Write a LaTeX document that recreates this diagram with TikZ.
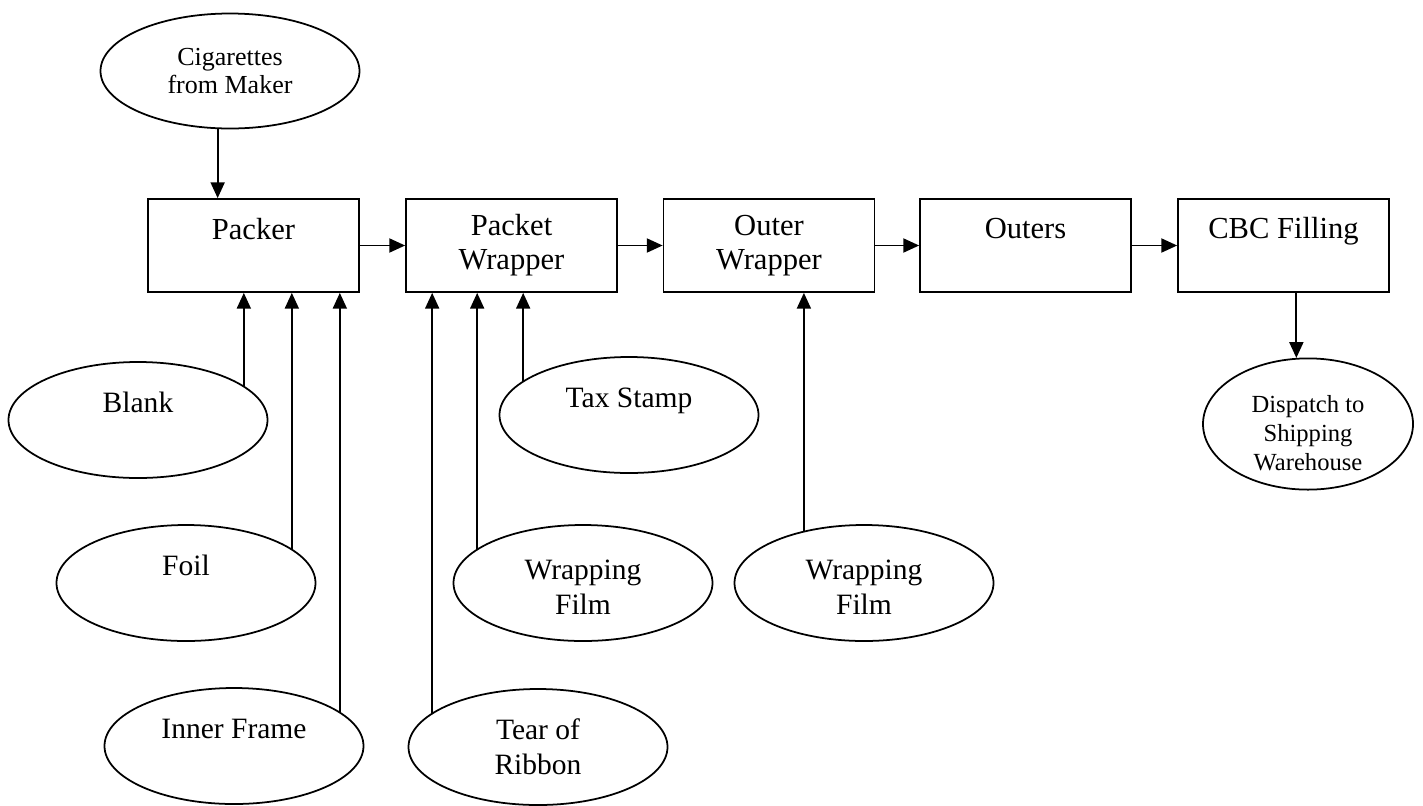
\documentclass[tikz,border=0pt]{standalone}
\usepackage{fontspec}
\setmainfont{Liberation Serif}
\usetikzlibrary{shapes.geometric,arrows.meta}

\begin{document}
\begin{tikzpicture}[
	machine/.style={draw,line width=0.5pt,minimum width=2.11cm,minimum height=0.93cm,inner sep=0pt,align=center,font=\fontsize{8.7}{9.7}\selectfont},
	supply/.style={draw,ellipse,line width=0.5pt,minimum width=2.59cm,minimum height=1.16cm,inner sep=0pt,align=center,font=\fontsize{8.4}{9.9}\selectfont},
	link/.style={line width=0.5pt,-{Triangle[length=4.5pt,width=4pt]}}
]
	\useasboundingbox (0,0) rectangle (14.23,-8.05);
	% machines in a row
	\node[machine] (packer) at (2.535,-2.455) {Packer\\\phantom{P}};
	\node[machine] (pw) at (5.115,-2.455) {Packet\\Wrapper};
	\node[machine] (ow) at (7.69,-2.455) {Outer\\Wrapper};
	\node[machine] (outers) at (10.255,-2.455) {Outers\\\phantom{O}};
	\node[machine] (cbc) at (12.835,-2.455) {CBC Filling\\\phantom{C}};
	% materials
	\node[supply,font=\fontsize{7.4}{8}\selectfont,minimum height=1.15cm] (cig) at (2.30,-0.71) {Cigarettes\\from Maker};
	\node[supply] (blank) at (1.38,-4.20) {Blank\\\phantom{B}};
	\node[supply] (foil) at (1.86,-5.83) {Foil\\\phantom{F}};
	\node[supply] (inner) at (2.34,-7.46) {Inner Frame\\\phantom{I}};
	\node[supply] (tax) at (6.29,-4.15) {Tax Stamp\\\phantom{T}};
	\node[supply] (wf1) at (5.83,-5.83) {\rule{0pt}{8pt}Wrapping\\Film};
	\node[supply] (tear) at (5.38,-7.47) {Tear of\\Ribbon};
	\node[supply] (wf2) at (8.64,-5.83) {\rule{0pt}{8pt}Wrapping\\Film};
	\node[supply,font=\fontsize{7}{8.2}\selectfont,minimum width=2.10cm,minimum height=1.26cm] (dispatch) at (13.08,-4.24) {\rule{0pt}{9.9pt}Dispatch to\\Shipping\\Warehouse};
	% flow
	\draw[link] (packer) -- (pw);
	\draw[link] (pw) -- (ow);
	\draw[link] (ow) -- (outers);
	\draw[link] (outers) -- (cbc);
	\draw[link] (cig.258) -- (cig.258 |- packer.north);
	\draw[link] (dispatch.100 |- cbc.south) -- (dispatch.100);
	% feeds from below
	\draw[link] (blank.18) -- (blank.18 |- packer.south);
	\draw[link] (foil.18) -- (foil.18 |- packer.south);
	\draw[link] (inner.18) -- (inner.18 |- packer.south);
	\draw[link] (tear.162) -- (tear.162 |- pw.south);
	\draw[link] (wf1.162) -- (wf1.162 |- pw.south);
	\draw[link] (tax.162) -- (tax.162 |- pw.south);
	\draw[link] (wf2.139) -- (wf2.139 |- ow.south);
\end{tikzpicture}
\end{document}
